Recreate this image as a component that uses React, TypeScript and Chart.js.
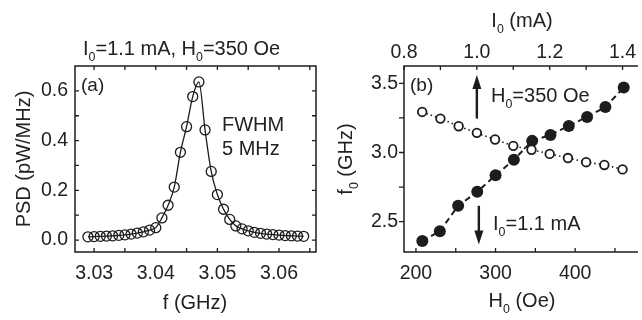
import React, { useEffect, useRef } from 'react';
import { Chart, registerables } from 'chart.js';

Chart.register(...registerables);

// ---------- Panel (a): PSD spectrum ----------
const psdFreq = [
  3.029, 3.030, 3.031, 3.032, 3.033, 3.034, 3.035, 3.036, 3.037, 3.038, 3.039, 3.040,
  3.041, 3.042, 3.043, 3.044, 3.045, 3.046, 3.047, 3.048, 3.049, 3.050, 3.051, 3.052,
  3.053, 3.054, 3.055, 3.056, 3.057, 3.058, 3.059, 3.060, 3.061, 3.062, 3.063, 3.064,
];
const psdValues = [
  0.013, 0.014, 0.015, 0.016, 0.017, 0.019, 0.021, 0.024, 0.028, 0.033, 0.040, 0.050,
  0.089, 0.140, 0.213, 0.353, 0.456, 0.577, 0.636, 0.443, 0.276, 0.183, 0.124, 0.083,
  0.057, 0.045, 0.037, 0.031, 0.027, 0.024, 0.022, 0.020, 0.018, 0.017, 0.016, 0.015,
];
const psdTickLabelsX = [3.03, 3.04, 3.05, 3.06];
const psdTickLabelsY = [0.0, 0.2, 0.4, 0.6];
const psdTickMarksX = [3.03, 3.035, 3.04, 3.045, 3.05, 3.055, 3.06, 3.065];
const psdTickMarksY = [0.0, 0.1, 0.2, 0.3, 0.4, 0.5, 0.6];

// ---------- Panel (b): f0 vs H0 and I0 ----------
const fieldH = [208, 230, 253, 277, 300, 323, 346, 369, 392, 415, 438, 461];
const freqVsField = [2.361, 2.431, 2.615, 2.716, 2.835, 2.947, 3.084, 3.127, 3.192, 3.257, 3.329, 3.469];
const currentI = [0.85, 0.90, 0.95, 1.00, 1.05, 1.10, 1.15, 1.20, 1.25, 1.30, 1.35, 1.40];
const freqVsCurrent = [3.293, 3.245, 3.19, 3.142, 3.094, 3.048, 3.02, 2.99, 2.96, 2.93, 2.91, 2.878];
const fieldTickLabels = [200, 300, 400];
const currentTickLabels = [0.8, 1.0, 1.2, 1.4];
const f0TickLabels = [2.5, 3.0, 3.5];
const fieldTickMarks = [200, 250, 300, 350, 400, 450];
const currentTickMarks = [0.8, 0.9, 1.0, 1.1, 1.2, 1.3, 1.4];
const f0TickMarks = [2.5, 2.75, 3.0, 3.25, 3.5];

const FONT = '"Liberation Sans", Arial, Helvetica, sans-serif';
const TEXT = '#222';
const LINE = '#1c1c1c';
const TICK_SIZE = 19.5;
const LABEL_SIZE = 20;

type Part = [string, boolean?];

function drawRich(
  ctx: CanvasRenderingContext2D,
  parts: Part[],
  x: number,
  y: number,
  size: number,
  align: 'left' | 'center',
  rot = 0
) {
  ctx.save();
  ctx.translate(x, y);
  if (rot) ctx.rotate(rot);
  ctx.fillStyle = TEXT;
  ctx.textBaseline = 'alphabetic';
  ctx.textAlign = 'left';
  const subSize = size * 0.62;
  let w = 0;
  for (const [t, sub] of parts) {
    ctx.font = `${sub ? subSize : size}px ${FONT}`;
    w += ctx.measureText(t).width;
  }
  let cx = align === 'center' ? -w / 2 : 0;
  for (const [t, sub] of parts) {
    ctx.font = `${sub ? subSize : size}px ${FONT}`;
    ctx.fillText(t, cx, sub ? size * 0.3 : 0);
    cx += ctx.measureText(t).width;
  }
  ctx.restore();
}

function hTicks(ctx: CanvasRenderingContext2D, scale: any, values: number[], y: number, dir: number, len: number) {
  ctx.beginPath();
  for (const v of values) {
    const px = scale.getPixelForValue(v);
    ctx.moveTo(px, y);
    ctx.lineTo(px, y + dir * len);
  }
  ctx.stroke();
}

function vTicks(ctx: CanvasRenderingContext2D, scale: any, values: number[], x: number, dir: number, len: number) {
  ctx.beginPath();
  for (const v of values) {
    const py = scale.getPixelForValue(v);
    ctx.moveTo(x, py);
    ctx.lineTo(x + dir * len, py);
  }
  ctx.stroke();
}

function arrow(ctx: CanvasRenderingContext2D, x: number, yTail: number, yTip: number) {
  const dir = yTip < yTail ? -1 : 1;
  const headLen = 14;
  const headHalf = 4.5;
  ctx.save();
  ctx.strokeStyle = LINE;
  ctx.fillStyle = LINE;
  ctx.lineWidth = 2.4;
  ctx.beginPath();
  ctx.moveTo(x, yTail);
  ctx.lineTo(x, yTip - dir * headLen * 0.8);
  ctx.stroke();
  ctx.beginPath();
  ctx.moveTo(x, yTip);
  ctx.lineTo(x - headHalf, yTip - dir * headLen);
  ctx.lineTo(x + headHalf, yTip - dir * headLen);
  ctx.closePath();
  ctx.fill();
  ctx.restore();
}

const tickFont = { family: FONT, size: TICK_SIZE };

function fixedTicks(values: number[]) {
  return (s: any) => {
    s.ticks = values.map((v) => ({ value: v }));
  };
}

function PanelA() {
  const ref = useRef<HTMLCanvasElement | null>(null);
  useEffect(() => {
    if (!ref.current) return;
    const decor = {
      id: 'decorA',
      afterDraw(chart: any) {
        const ctx = chart.ctx as CanvasRenderingContext2D;
        const a = chart.chartArea;
        const sx = chart.scales.x;
        const sy = chart.scales.y;
        ctx.save();
        ctx.strokeStyle = LINE;
        ctx.lineWidth = 1.5;
        ctx.strokeRect(a.left, a.top, a.right - a.left, a.bottom - a.top);
        ctx.lineWidth = 1.3;
        hTicks(ctx, sx, psdTickMarksX, a.bottom, -1, 4);
        hTicks(ctx, sx, psdTickMarksX, a.top, 1, 4);
        vTicks(ctx, sy, psdTickMarksY, a.left, 1, 4);
        vTicks(ctx, sy, psdTickMarksY, a.right, -1, 4);
        ctx.restore();
        drawRich(ctx, [['I'], ['0', true], ['=1.1 mA, H'], ['0', true], ['=350 Oe']], 83, 55, LABEL_SIZE, 'left');
        drawRich(ctx, [['(a)']], 81, 91, 19, 'left');
        drawRich(ctx, [['FWHM']], 222, 131, LABEL_SIZE, 'left');
        drawRich(ctx, [['5 MHz']], 222, 155, LABEL_SIZE, 'left');
        drawRich(ctx, [['PSD (pW/MHz)']], 30, 159, LABEL_SIZE, 'center', -Math.PI / 2);
        drawRich(ctx, [['f (GHz)']], 195, 309, LABEL_SIZE, 'center');
      },
    };
    const chart = new Chart(ref.current, {
      type: 'scatter',
      data: {
        datasets: [
          {
            data: psdFreq.map((f, i) => ({ x: f, y: psdValues[i] })),
            showLine: true,
            borderColor: LINE,
            borderWidth: 1.3,
            cubicInterpolationMode: 'monotone',
            pointRadius: 5,
            pointBorderWidth: 1.3,
            pointBorderColor: LINE,
            pointBackgroundColor: 'rgba(0,0,0,0)',
            pointHoverRadius: 5,
          } as any,
        ],
      },
      options: {
        animation: false,
        responsive: false,
        events: [],
        layout: { padding: { top: 66, right: 14, left: 0, bottom: 0 } },
        plugins: { legend: { display: false }, tooltip: { enabled: false } },
        scales: {
          x: {
            type: 'linear',
            min: 3.0269,
            max: 3.066,
            grid: { display: false, drawTicks: false },
            border: { display: false },
            afterBuildTicks: fixedTicks(psdTickLabelsX),
            ticks: {
              autoSkip: false,
              maxRotation: 0,
              padding: 10,
              color: TEXT,
              font: tickFont,
              callback: (v: any) => Number(v).toFixed(2),
            },
            afterFit: (s: any) => {
              s.height = 68;
            },
          },
          y: {
            type: 'linear',
            min: -0.048,
            max: 0.7,
            grid: { display: false, drawTicks: false },
            border: { display: false },
            afterBuildTicks: fixedTicks(psdTickLabelsY),
            ticks: {
              autoSkip: false,
              padding: 7,
              color: TEXT,
              font: tickFont,
              callback: (v: any) => Number(v).toFixed(1),
            },
            afterFit: (s: any) => {
              s.width = 75;
            },
          },
        },
      } as any,
      plugins: [decor],
    });
    return () => chart.destroy();
  }, []);
  return <canvas ref={ref} width={330} height={320} style={{ position: 'absolute', left: 0, top: 0 }} />;
}

function PanelB() {
  const ref = useRef<HTMLCanvasElement | null>(null);
  useEffect(() => {
    if (!ref.current) return;
    const decor = {
      id: 'decorB',
      afterDraw(chart: any) {
        const ctx = chart.ctx as CanvasRenderingContext2D;
        const a = chart.chartArea;
        const sx = chart.scales.x;
        const sx2 = chart.scales.x2;
        const sy = chart.scales.y;
        ctx.save();
        ctx.strokeStyle = LINE;
        ctx.lineWidth = 1.5;
        ctx.beginPath();
        ctx.moveTo(a.right + 2, a.top);
        ctx.lineTo(a.left, a.top);
        ctx.lineTo(a.left, a.bottom);
        ctx.lineTo(a.right + 2, a.bottom);
        ctx.stroke();
        ctx.lineWidth = 1.3;
        hTicks(ctx, sx, fieldTickMarks, a.bottom, -1, 4);
        hTicks(ctx, sx2, currentTickMarks, a.top, 1, 4);
        vTicks(ctx, sy, f0TickMarks, a.left, -1, 5);
        ctx.restore();
        arrow(ctx, sx2.getPixelForValue(1.0), sy.getPixelForValue(3.245), sy.getPixelForValue(3.56));
        arrow(ctx, sx.getPixelForValue(279), sy.getPixelForValue(2.615), sy.getPixelForValue(2.335));
        drawRich(ctx, [['(b)']], 80, 91, 19, 'left');
        drawRich(ctx, [['H'], ['0', true], ['=350 Oe']], 161, 102, LABEL_SIZE, 'left');
        drawRich(ctx, [['I'], ['0', true], ['=1.1 mA']], 163, 230, LABEL_SIZE, 'left');
        drawRich(ctx, [['f'], ['0', true], [' (GHz)']], 22, 159, LABEL_SIZE, 'center', -Math.PI / 2);
        drawRich(ctx, [['H'], ['0', true], [' (Oe)']], 192, 307, LABEL_SIZE, 'center');
        drawRich(ctx, [['I'], ['0', true], [' (mA)']], 192, 27, LABEL_SIZE, 'center');
      },
    };
    const chart = new Chart(ref.current, {
      type: 'scatter',
      data: {
        datasets: [
          {
            data: currentI.map((c, i) => ({ x: c, y: freqVsCurrent[i] })),
            xAxisID: 'x2',
            yAxisID: 'y',
            showLine: true,
            borderColor: LINE,
            borderWidth: 1.6,
            borderDash: [1.5, 3],
            pointRadius: 4.3,
            pointBorderWidth: 1.8,
            pointBorderColor: LINE,
            pointBackgroundColor: '#ffffff',
            pointHoverRadius: 4.3,
          } as any,
          {
            data: fieldH.map((h, i) => ({ x: h, y: freqVsField[i] })),
            xAxisID: 'x',
            yAxisID: 'y',
            showLine: true,
            borderColor: LINE,
            borderWidth: 2,
            borderDash: [6, 4],
            pointRadius: 6,
            pointBorderWidth: 0,
            pointBackgroundColor: LINE,
            pointHoverRadius: 6,
          } as any,
        ],
      },
      options: {
        animation: false,
        responsive: false,
        events: [],
        layout: { padding: { top: 0, right: 0, left: 0, bottom: 0 } },
        plugins: { legend: { display: false }, tooltip: { enabled: false } },
        scales: {
          x: {
            type: 'linear',
            position: 'bottom',
            min: 185,
            max: 476.3,
            grid: { display: false, drawTicks: false },
            border: { display: false },
            afterBuildTicks: fixedTicks(fieldTickLabels),
            ticks: {
              autoSkip: false,
              maxRotation: 0,
              padding: 10,
              color: TEXT,
              font: tickFont,
              callback: (v: any) => Number(v).toFixed(0),
            },
            afterFit: (s: any) => {
              s.height = 68;
            },
          },
          x2: {
            type: 'linear',
            position: 'top',
            min: 0.8,
            max: 1.4366,
            grid: { display: false, drawTicks: false },
            border: { display: false },
            afterBuildTicks: fixedTicks(currentTickLabels),
            ticks: {
              autoSkip: false,
              maxRotation: 0,
              padding: 2,
              color: TEXT,
              font: tickFont,
              callback: (v: any) => Number(v).toFixed(1),
            },
            afterFit: (s: any) => {
              s.height = 66;
            },
          },
          y: {
            type: 'linear',
            min: 2.281,
            max: 3.625,
            grid: { display: false, drawTicks: false },
            border: { display: false },
            afterBuildTicks: fixedTicks(f0TickLabels),
            ticks: {
              autoSkip: false,
              padding: 6,
              color: TEXT,
              font: tickFont,
              callback: (v: any) => Number(v).toFixed(1),
            },
            afterFit: (s: any) => {
              s.width = 74;
            },
          },
        },
      } as any,
      plugins: [decor],
    });
    return () => chart.destroy();
  }, []);
  return <canvas ref={ref} width={312} height={320} style={{ position: 'absolute', left: 330, top: 0 }} />;
}

export default function App() {
  return (
    <div style={{ position: 'absolute', left: 0, top: 0, width: 642, height: 320, overflow: 'hidden', background: '#fff' }}>
      <PanelA />
      <PanelB />
    </div>
  );
}
